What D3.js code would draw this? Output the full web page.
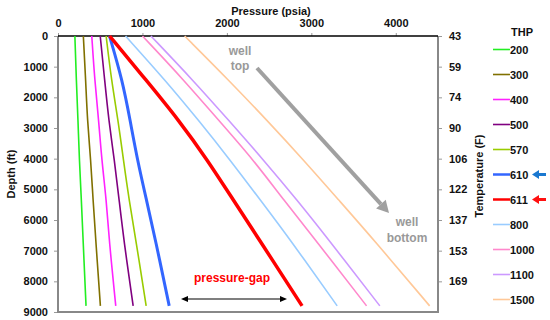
<!DOCTYPE html>
<html><head><meta charset="utf-8">
<script src="https://cdn.jsdelivr.net/npm/d3@7"></script>
<style>html,body{margin:0;padding:0;background:#fff;}svg{display:block;font-family:"Liberation Sans",Arial,sans-serif;}</style>
</head><body><svg id="c" width="550" height="320"></svg>
<script>
const depthFt = [0, 1450, 2750, 4050, 5350, 6650, 8800];
const thpLabels = ["200","300","400","500","570","610","611","800","1000","1100","1500"];
const p200  = [200, 217, 237, 253, 277, 297, 332];
const p300  = [300, 328, 348, 388, 415, 447, 502];
const p400  = [400, 435, 482, 518, 573, 605, 684];
const p500  = [500, 553, 601, 668, 724, 779, 890];
const p570  = [570, 633, 712, 775, 842, 922, 1044];
const p610  = [610, 763, 854, 941, 1048, 1154, 1317];
const p611  = [611, 1047, 1432, 1771, 2076, 2385, 2890];
const p800  = [800, 1273, 1665, 2040, 2396, 2752, 3306];
const p1000 = [1000, 1495, 1902, 2317, 2673, 3049, 3654];
const p1100 = [1100, 1601, 2021, 2436, 2831, 3207, 3811];
const p1500 = [1500, 2025, 2476, 2910, 3325, 3741, 4401];
const pressureTicks = [0, 1000, 2000, 3000, 4000];
const depthTicks = [0,1000,2000,3000,4000,5000,6000,7000,8000,9000];
const tempLabels = ["43","59","74","90","106","122","137","153","169"];

const seriesValues = [p200,p300,p400,p500,p570,p610,p611,p800,p1000,p1100,p1500];
const colors = ["#22ee22","#807000","#ff22ff","#800080","#99cc00","#3366ff","#ff0000","#99ccff","#ff88cc","#cc99ff","#ffc898"];
const widths = [1.6,1.6,1.6,1.6,1.6,3,3.5,1.6,1.6,1.6,1.6];

const svg = d3.select("#c");
const L=58, R=438, T=36, B=312;
const x = d3.scaleLinear().domain([0,4500]).range([L,R]);
const y = d3.scaleLinear().domain([0,9000]).range([T,B]);

const font = "bold 11px 'Liberation Sans', Arial, sans-serif";
const topAx = svg.append("g").attr("transform",`translate(0,${T})`)
  .call(d3.axisTop(x).tickValues(pressureTicks).tickSize(3).tickPadding(6).tickFormat(d3.format("d")));
const leftAx = svg.append("g").attr("transform",`translate(${L},0)`)
  .call(d3.axisLeft(y).tickValues(depthTicks).tickSize(4).tickPadding(6).tickFormat(d3.format("d")));
const yR = d3.scalePoint().domain(tempLabels).range([y(0), y(8000)]);
const rightAx = svg.append("g").attr("transform",`translate(${R},0)`)
  .call(d3.axisRight(yR).tickSize(4).tickPadding(7));
[topAx,leftAx,rightAx].forEach(g=>{
  g.select(".domain").remove();
  g.selectAll(".tick line").attr("stroke","#999").attr("stroke-width",1);
  g.selectAll(".tick text").attr("fill","#111").style("font",font);
});
topAx.selectAll(".tick text").attr("dy","0");
svg.append("line").attr("x1",L).attr("x2",L).attr("y1",T).attr("y2",B).attr("stroke","#888").attr("stroke-width",2);
svg.append("line").attr("x1",R).attr("x2",R).attr("y1",T).attr("y2",B).attr("stroke","#888").attr("stroke-width",2);
svg.append("line").attr("x1",L-1).attr("x2",R+1).attr("y1",B).attr("y2",B).attr("stroke","#888").attr("stroke-width",2);
svg.append("line").attr("x1",L).attr("x2",R).attr("y1",T).attr("y2",T).attr("stroke","#000").attr("stroke-width",1.5);

svg.append("text").attr("x",271).attr("y",15).attr("text-anchor","middle").style("font",font).attr("fill","#111").text("Pressure (psia)");
svg.append("text").attr("transform","translate(15,174) rotate(-90)").attr("text-anchor","middle").style("font",font).attr("fill","#111").text("Depth (ft)");
svg.append("text").attr("transform","translate(483,176) rotate(-90)").attr("text-anchor","middle").style("font",font).attr("fill","#111").text("Temperature (F)");

const line = d3.line().x(d=>x(d[1])).y(d=>y(d[0])).curve(d3.curveBasis);
seriesValues.forEach((vals,i)=>{
  svg.append("path").datum(vals.map((v,j)=>[depthFt[j],v]))
    .attr("d",line).attr("fill","none").attr("stroke",colors[i]).attr("stroke-width",widths[i]);
});

svg.append("text").attr("x",511).attr("y",36).style("font",font).attr("fill","#111").text("THP");
const legY = d3.scalePoint().domain(thpLabels).range([49.5,299.5]);
thpLabels.forEach((lab,i)=>{
  const yy = legY(lab);
  svg.append("line").attr("x1",493).attr("x2",510).attr("y1",yy).attr("y2",yy)
    .attr("stroke",colors[i]).attr("stroke-width",i===5||i===6?2.5:1.6);
  svg.append("text").attr("x",510).attr("y",yy+4).style("font",font).attr("fill","#111").text(lab);
});
function legArrow(yy,col){
  svg.append("path").attr("d",`M546,${yy-1.5} L539,${yy-1.5} L539,${yy-4.5} L532,${yy} L539,${yy+4.5} L539,${yy+1.5} L546,${yy+1.5} Z`).attr("fill",col);
}
legArrow(legY("610"),"#1a78d0");
legArrow(legY("611"),"#ff1010");

const gfont = "bold 12px 'Liberation Sans', Arial, sans-serif";
svg.append("text").attr("x",240).attr("y",55).attr("text-anchor","middle").style("font",gfont).attr("fill","#999").text("well");
svg.append("text").attr("x",240).attr("y",70).attr("text-anchor","middle").style("font",gfont).attr("fill","#999").text("top");
svg.append("text").attr("x",407).attr("y",226).attr("text-anchor","middle").style("font",gfont).attr("fill","#999").text("well");
svg.append("text").attr("x",407).attr("y",242).attr("text-anchor","middle").style("font",gfont).attr("fill","#999").text("bottom");
{
  const x1=257,y1=68,x2=389,y2=213;
  const ang=Math.atan2(y2-y1,x2-x1), hl=12, hw=6.5;
  const bx=x2-hl*Math.cos(ang), by=y2-hl*Math.sin(ang);
  svg.append("line").attr("x1",x1).attr("y1",y1).attr("x2",bx).attr("y2",by).attr("stroke","#a0a0a0").attr("stroke-width",4);
  const px=-Math.sin(ang), py=Math.cos(ang);
  svg.append("path").attr("d",`M${x2},${y2} L${bx+px*hw},${by+py*hw} L${bx-px*hw},${by-py*hw} Z`).attr("fill","#a0a0a0");
}
svg.append("text").attr("x",232).attr("y",282).attr("text-anchor","middle").style("font",gfont).attr("fill","#ff0000").text("pressure-gap");
{
  const ya=299, xa=181, xb=287;
  svg.append("line").attr("x1",xa+5).attr("x2",xb-5).attr("y1",ya).attr("y2",ya).attr("stroke","#000").attr("stroke-width",1.2);
  svg.append("path").attr("d",`M${xa},${ya} L${xa+7},${ya-3} L${xa+7},${ya+3} Z`).attr("fill","#000");
  svg.append("path").attr("d",`M${xb},${ya} L${xb-7},${ya-3} L${xb-7},${ya+3} Z`).attr("fill","#000");
}
</script></body></html>
